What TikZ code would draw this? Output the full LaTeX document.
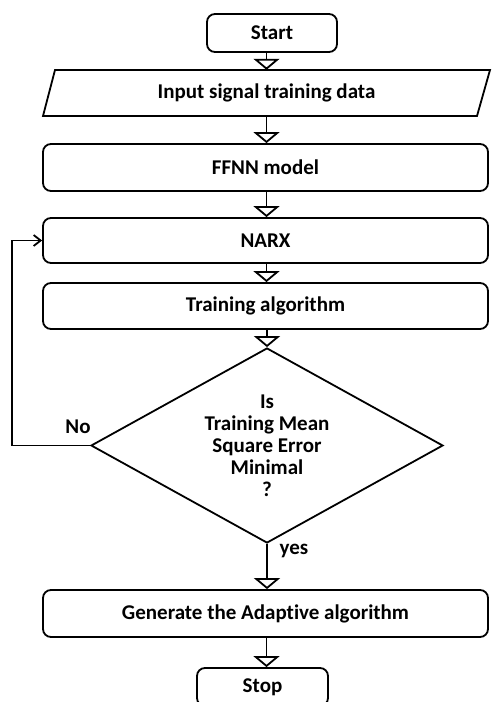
\documentclass[tikz,border=0pt]{standalone}
\usepackage{fontspec}
\setmainfont{Carlito}[Ligatures=NoCommon]
\usetikzlibrary{arrows.meta,shapes.geometric}
\tikzset{texte/.style={font=\fontsize{21}{22}\selectfont\bfseries, inner sep=0pt},
	boite/.style={texte, draw, line width=1.8pt, rounded corners=8pt, minimum width=445pt, minimum height=46pt},
	fleche/.style={line width=1.8pt, -{Triangle[open, width=26pt, length=11pt]}},
	retour/.style={line width=1.8pt, -{Straight Barb[length=7pt, width=11pt]}}}

\begin{document}
\begin{tikzpicture}[x=1pt, y=-1pt]
	\useasboundingbox (0,0) rectangle (491,702);
	% les boites, de haut en bas
	\node[boite, minimum width=130pt, minimum height=38pt] (debut) at (272,33) {Start};
	\node[texte, minimum height=46pt] (entree) at (266.5,93) {Input signal training data};
	\draw[line width=1.8pt] (55,70) -- (490,70) -- (477,116) -- (43,116) -- cycle; % parallelogramme
	\node[boite, minimum height=47pt] (ffnn) at (265.5,167.5) {FFNN model};
	\node[boite, minimum height=45pt] (narx) at (265.5,240.5) {NARX};
	\node[boite] (algo) at (265.5,306) {Training algorithm};
	\node[texte, draw, line width=1.8pt, diamond, aspect=1.8, minimum width=352pt, minimum height=195pt, align=center] (test) at (267,445.5)
		{Is\\Training Mean\\Square Error\\Minimal\\?};
	\node[boite, minimum height=47pt] (adapt) at (265.5,613.5) {Generate the Adaptive algorithm};
	\node[boite, minimum width=131pt, minimum height=38pt] (fin) at (262.5,687) {Stop};
	% les etiquettes
	\node[texte] (lblnon) at (78,427) {No};
	\node[texte] (lbloui) at (294,551) {yes};
	% les fleches
	\draw[fleche] (debut.south -| entree.north) -- (entree.north);
	\draw[fleche] (entree.south) -- (entree.south |- ffnn.north);
	\draw[fleche] (ffnn.south -| entree.south) -- (entree.south |- narx.north);
	\draw[fleche] (narx.south -| entree.south) -- (entree.south |- algo.north);
	\draw[fleche] (test.north |- algo.south) -- (test.north);
	\draw[fleche] (test.south) -- (test.south |- adapt.north);
	\draw[fleche] (adapt.south -| entree.south) -- (entree.south |- fin.north);
	% la boucle de retour
	\coordinate (coin) at (12,445.5);
	\draw[retour] (test.west) -- (coin) |- (narx.west);
\end{tikzpicture}
\end{document}
